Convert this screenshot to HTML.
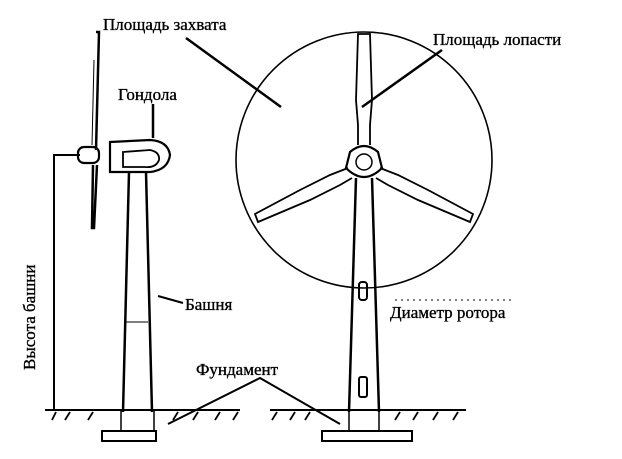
<!DOCTYPE html>
<html><head><meta charset="utf-8"><style>
html,body{margin:0;padding:0;background:#fff;}
svg{display:block}
text{font-family:"Liberation Serif","DejaVu Serif",serif;font-size:17px;fill:#000;stroke:#000;stroke-width:0.35}
</style></head><body>
<svg width="622" height="459" viewBox="0 0 622 459" xmlns="http://www.w3.org/2000/svg">
<g fill="none" stroke="#000">
<circle cx="364" cy="160" r="128" stroke-width="1.6"/>
<path d="M356 178 L349 412 M372 178 L379 412" stroke-width="2.5"/>
<rect x="359" y="282" width="8" height="18" rx="3" stroke-width="2"/>
<rect x="359" y="377" width="8" height="20" rx="2" stroke-width="2"/>
<path d="M358 145 L358 125 L356 100 L358 34 L370 34 L372 100 L370 125 L370 145" stroke-width="1.8"/>
<path d="M348 168 L330 175 L300 190 L255 214 L258 222 L310 200 L340 185 L352 178" stroke-width="1.8"/>
<path d="M380 168 L398 175 L428 190 L473 214 L470 222 L418 200 L388 185 L376 178" stroke-width="1.8"/>
<path d="M350 152 Q364 140 378 152 L382 168 Q364 186 346 168 Z" stroke-width="2.2"/>
<circle cx="364" cy="162" r="8" stroke-width="1.5"/>
<path d="M129 172 L123 412 M146 172 L152 412" stroke-width="2.5"/>
<path d="M126 322 L148 322" stroke-width="1"/>
<path d="M96 32 L99 32 L96 150 M93 165 L92 228 L94 228 L97 165" stroke-width="2.5"/>
<path d="M94 60 L92 145" stroke-width="1"/>
<rect x="78" y="147" width="21" height="16" rx="6" stroke-width="2.2"/>
<path d="M110 142 L150 140 Q168 141 170 155 Q168 170 150 172 L110 172 Z" stroke-width="2.2"/>
<path d="M123 152 L150 150 Q160 152 159 160 Q156 168 145 167 L123 167 Z" stroke-width="1.8"/>
<path d="M153 104 L153 138" stroke-width="2.5"/>
<path d="M54 410 L54 155 L80 155" stroke-width="2"/>
<path d="M45 410 L240 410 M270 410 L466 410" stroke-width="2"/>
<path d="M52 420 L56 412 M65 420 L70 412 M88 420 L93 412 M173 420 L178 412 M193 420 L198 412 M215 420 L220 412 M233 420 L238 412 M272 420 L277 412 M290 420 L295 412 M305 420 L310 412 M395 420 L400 412 M413 420 L418 412 M433 420 L438 412 M453 420 L458 412" stroke-width="1.8"/>
<path d="M121 410 L121 432 M154 410 L154 432 M349 410 L349 432 M379 410 L379 432" stroke-width="1.5"/>
<rect x="102" y="431" width="54" height="10" stroke-width="2"/>
<rect x="322" y="431" width="90" height="10" stroke-width="2"/>
<path d="M168 424 L260 378 L340 424" stroke-width="2"/>
<path d="M186 38 L281 107" stroke-width="2.5"/>
<path d="M442 50 L362 107" stroke-width="2.5"/>
<path d="M158 296 L183 303" stroke-width="2"/>
<path d="M395 300 L515 300" stroke-width="1" stroke-dasharray="2,4"/>
</g>
<text x="103" y="30">Площадь захвата</text>
<text x="118" y="100">Гондола</text>
<text x="433" y="45">Площадь лопасти</text>
<text x="185" y="310">Башня</text>
<text x="390" y="318">Диаметр ротора</text>
<text x="196" y="375">Фундамент</text>
<text transform="translate(35,370) rotate(-90)">Высота башни</text>
</svg>
</body></html>
